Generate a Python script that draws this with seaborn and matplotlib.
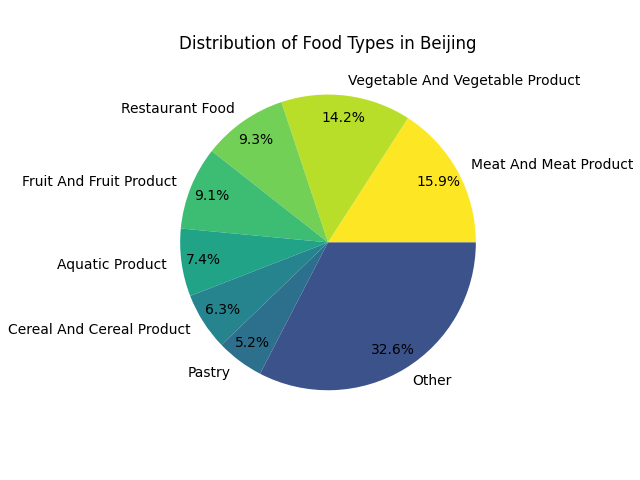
import matplotlib
matplotlib.use("Agg")
import matplotlib.pyplot as plt
import seaborn as sns

# food categories and their share (%)
food_types = ["Meat And Meat Product", "Vegetable And Vegetable Product", "Restaurant Food",
              "Fruit And Fruit Product", "Aquatic Product", "Cereal And Cereal Product",
              "Pastry", "Other"]
shares = [15.9, 14.2, 9.3, 9.1, 7.4, 6.3, 5.2, 32.6]

# viridis-like colours picked per slice
colors = ["#fde725", "#b8de29", "#73d056", "#3dbc74", "#20a386", "#25848e", "#2d708e", "#3b528b"]

sns.reset_orig()
fig, ax = plt.subplots(figsize=(6.4, 4.8), dpi=100)
ax.pie(shares, labels=food_types, colors=colors, autopct="%1.1f%%", pctdistance=0.85)
ax.set_title("Distribution of Food Types in Beijing")

plt.savefig("out.png")
